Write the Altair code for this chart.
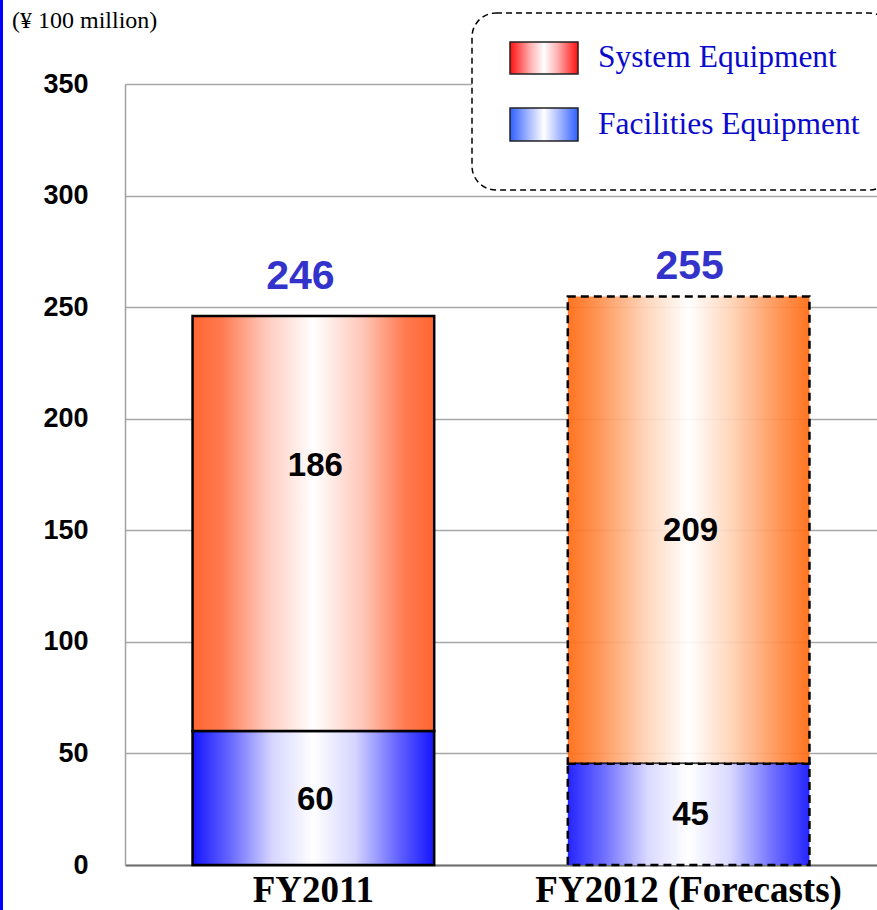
import altair as alt
import pandas as pd

# Capital expenditure by fiscal year (unit: 100 million yen)
years = ["FY2011", "FY2012 (Forecasts)"]
facilities = [60, 45.4]
system = [186, 209.4]
y_ticks = [0, 50, 100, 150, 200, 250, 300, 350]
legend_labels = ["System Equipment", "Facilities Equipment"]
unit_label = "(¥ 100 million)"

rows = []
for i, yr in enumerate(years):
    rows.append({"year": yr, "series": "Facilities Equipment", "value": facilities[i], "order": 0})
    rows.append({"year": yr, "series": "System Equipment", "value": system[i], "order": 1})
df = pd.DataFrame(rows)

W, H = 752, 781


def hgrad(stops):
    return alt.Gradient(
        gradient="linear", x1=0, x2=1, y1=0, y2=0,
        stops=[alt.GradientStop(offset=o, color=c) for o, c in stops],
    )


grad_sys_2011 = hgrad([(0, "#FF6630"), (0.12, "#FF7A50"), (0.3, "#FFC8BA"),
                       (0.5, "#FFFFFF"), (0.7, "#FFC8BA"), (0.88, "#FF7A50"), (1, "#FF6630")])
grad_sys_2012 = hgrad([(0, "#FF6A10"), (0.12, "#FF8C48"), (0.32, "#FFD2B4"),
                       (0.5, "#FFFFFF"), (0.68, "#FFD2B4"), (0.88, "#FF8C48"), (1, "#FF6A10")])
grad_fac = hgrad([(0, "#1414FF"), (0.15, "#6464FF"), (0.33, "#D6D6FF"),
                  (0.5, "#FFFFFF"), (0.67, "#D6D6FF"), (0.85, "#6464FF"), (1, "#1414FF")])
grad_leg_sys = hgrad([(0, "#FF1010"), (0.3, "#FFB0B0"), (0.5, "#FFFFFF"),
                      (0.7, "#FFB0B0"), (1, "#FF1010")])
grad_leg_fac = hgrad([(0, "#3060FF"), (0.3, "#B0C0FF"), (0.5, "#FFFFFF"),
                      (0.7, "#B0C0FF"), (1, "#3060FF")])

x_enc = alt.X(
    "year:N", sort=years,
    scale=alt.Scale(paddingInner=0.356, paddingOuter=0.18),
    axis=alt.Axis(title=None, labelAngle=0, labelFont="Liberation Serif", labelFontSize=37,
                  labelFontWeight="bold", labelColor="black", labelPadding=7, labelLimit=0,
                  domainColor="#707070", domainWidth=2, ticks=False, grid=False),
)
y_scale = alt.Scale(domain=[0, 350], nice=False)
y_axis = alt.Axis(title=None, values=y_ticks, labelFont="Liberation Sans", labelFontSize=27,
                  labelFontWeight="bold", labelColor="black", labelPadding=37, ticks=False,
                  domainColor="#A0A0A0", domainWidth=1.5, gridColor="#A8A8A8", gridWidth=1.5)

base = alt.Chart(df).transform_stack(
    stack="value", groupby=["year"], as_=["y0", "y1"], sort=[alt.SortField("order")]
).transform_calculate(mid="(datum.y0 + datum.y1) / 2")


def segment(year, series, fill, dashed, opacity):
    props = dict(fill=fill, stroke="black", strokeWidth=2.5, fillOpacity=opacity)
    if dashed:
        props["strokeDash"] = [8, 5]
    return base.transform_filter(
        (alt.datum.year == year) & (alt.datum.series == series)
    ).mark_bar(**props).encode(
        x=x_enc,
        y=alt.Y("y1:Q", scale=y_scale, axis=y_axis),
        y2="y0:Q",
    )


def seg_label(year, series, dy):
    return base.transform_filter(
        (alt.datum.year == year) & (alt.datum.series == series)
    ).mark_text(font="Liberation Sans", fontSize=33, fontWeight="bold", color="black",
                baseline="middle", dy=dy, dx=2).encode(
        x=x_enc, y=alt.Y("mid:Q", scale=y_scale), text=alt.Text("value:Q", format=".0f"),
    )


def total_label(year, dx, dy):
    return alt.Chart(df).transform_filter(alt.datum.year == year).transform_aggregate(
        total="sum(value)", groupby=["year"]
    ).mark_text(font="Liberation Sans", fontSize=41, fontWeight="bold", color="#3333CC",
                baseline="middle", dx=dx, dy=dy).encode(
        x=x_enc, y=alt.Y("total:Q", scale=y_scale), text=alt.Text("total:Q", format=".0f"),
    )


bars = [
    segment(years[0], "Facilities Equipment", grad_fac, False, 1),
    segment(years[0], "System Equipment", grad_sys_2011, False, 1),
    segment(years[1], "System Equipment", grad_sys_2012, True, 0.93),
    segment(years[1], "Facilities Equipment", grad_fac, True, 0.93),
]
labels = [
    seg_label(years[0], "Facilities Equipment", 2),
    seg_label(years[0], "System Equipment", -58),
    seg_label(years[1], "System Equipment", 1),
    seg_label(years[1], "Facilities Equipment", 1),
    total_label(years[0], -13, -39),
    total_label(years[1], 1, -29),
]

# Legend drawn in the upper-right corner of the plot
leg_df = pd.DataFrame({"label": legend_labels, "i": [0, 1]})
leg_box = alt.Chart(leg_df).transform_filter(alt.datum.i == 0).mark_rect(
    fill="white", stroke="black", strokeWidth=1.5, strokeDash=[6, 4], cornerRadius=24
).encode(x=alt.value(347), x2=alt.value(768), y=alt.value(-71), y2=alt.value(106))
leg_sw1 = alt.Chart(leg_df).transform_filter(alt.datum.i == 0).mark_rect(
    fill=grad_leg_sys, stroke="#222222", strokeWidth=1.5
).encode(x=alt.value(385), x2=alt.value(453), y=alt.value(-42), y2=alt.value(-10))
leg_sw2 = alt.Chart(leg_df).transform_filter(alt.datum.i == 1).mark_rect(
    fill=grad_leg_fac, stroke="#222222", strokeWidth=1.5
).encode(x=alt.value(385), x2=alt.value(453), y=alt.value(24), y2=alt.value(57))
leg_t1 = alt.Chart(leg_df).transform_filter(alt.datum.i == 0).mark_text(
    font="Liberation Serif", fontSize=31.5, color="#0A0ACC", align="left", baseline="middle"
).encode(x=alt.value(473), y=alt.value(-26), text="label:N")
leg_t2 = alt.Chart(leg_df).transform_filter(alt.datum.i == 1).mark_text(
    font="Liberation Serif", fontSize=31.5, color="#0A0ACC", align="left", baseline="middle"
).encode(x=alt.value(473), y=alt.value(41), text="label:N")

unit = alt.Chart(pd.DataFrame({"t": [unit_label]})).mark_text(
    font="Liberation Serif", fontSize=24, color="black", align="left", baseline="middle"
).encode(x=alt.value(-113), y=alt.value(-63), text="t:N")

border = alt.Chart(pd.DataFrame({"t": [unit_label]})).mark_rule(
    color="#0000FF", strokeWidth=3
).encode(x=alt.value(-123.5), y=alt.value(-84), y2=alt.value(826))

chart = alt.layer(
    *bars, *labels, leg_box, leg_sw1, leg_sw2, leg_t1, leg_t2, unit, border
).properties(
    width=W, height=H,
    autosize=alt.AutoSizeParams(type="none"),
    padding={"left": 125, "top": 84, "right": 0, "bottom": 45},
    background="white",
).configure_view(stroke=None)

chart.save("out.html", embed_options={"renderer": "svg", "actions": False})
